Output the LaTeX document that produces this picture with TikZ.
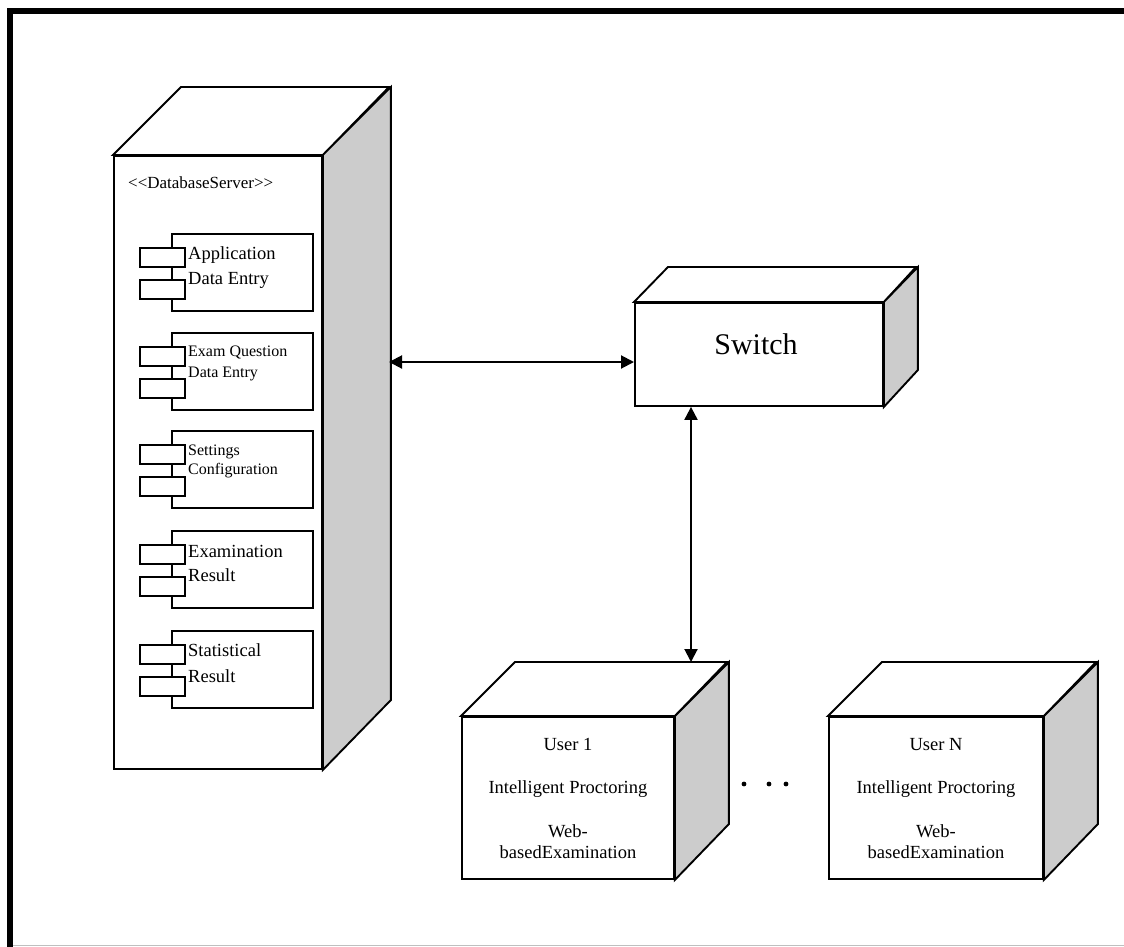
\documentclass[tikz,border=0pt]{standalone}
\usepackage{fontspec}
\setmainfont{Liberation Serif}
\usetikzlibrary{arrows.meta,calc}

\begin{document}
\begin{tikzpicture}[x=1pt,y=-1pt,
  front/.style={draw, line width=1.9pt, fill=white, inner sep=0pt, anchor=north west},
  sideface/.style={draw, line width=1.9pt, fill=black!20, line join=miter},
  topface/.style={draw, line width=1.9pt, fill=white, line join=miter},
  comp/.style={draw, line width=1.6pt, fill=white, inner sep=0pt, anchor=north west,
    minimum width=141pt, minimum height=77pt},
  port/.style={draw, line width=1.6pt, fill=white, inner sep=0pt, anchor=north west,
    minimum width=45pt, minimum height=19pt},
  lbl/.style={inner sep=0pt, anchor=base west},
  ulbl/.style={inner sep=0pt, anchor=base, font=\fontsize{18.5}{18.5}\selectfont},
  link/.style={line width=2pt, {Triangle[length=13pt,width=13pt]}-{Triangle[length=13pt,width=13pt]}},
]
\useasboundingbox (0,0) rectangle (1124,947);

% outer frame
\draw[line width=6pt, line join=miter] (10,947) -- (10,11.5) -- (1124,11.5);
\draw[black!25, line width=1pt] (13,945.5) -- (1124,945.5);

% database server node
\node[front, minimum width=208pt, minimum height=613pt] (db) at (113,155) {};
\draw[topface] (db.north west) -- ++(68,-68) -- ++(208,0) -- (db.north east) -- cycle;
\draw[sideface] (db.north east) -- ++(68,-68) -- ++(0,613) -- (db.south east) -- cycle;
\node[lbl, font=\fontsize{17}{17}\selectfont] (dbl) at (128,188)
  {<\kern0pt<DatabaseServer>\kern0pt>};

% components inside the server
\foreach \i/\t/\a/\b/\fs/\ya/\yb in {
  1/233/Application/Data Entry/18.5/26/51,
  2/332/Exam Question/Data Entry/16/24/45,
  3/430/Settings/Configuration/16/25/44,
  4/530/Examination/Result/18.5/27/51,
  5/630/Statistical/Result/18.5/26/52}{
  \node[comp] (c\i) at (171,\t) {};
  \node[port] (c\i p) at ($(c\i.north west)+(-32,14)$) {};
  \node[port] (c\i q) at ($(c\i.north west)+(-32,46)$) {};
  \node[lbl, font=\fontsize{\fs}{\fs}\selectfont] (c\i a) at ($(c\i.north west)+(17,\ya)$) {\a};
  \node[lbl, font=\fontsize{\fs}{\fs}\selectfont] (c\i b) at ($(c\i.north west)+(17,\yb)$) {\b};
}

% switch
\node[front, minimum width=248pt, minimum height=103pt] (sw) at (634,302) {};
\draw[topface] (sw.north west) -- ++(34,-35) -- ++(248,0) -- (sw.north east) -- cycle;
\draw[sideface] (sw.north east) -- ++(34,-35) -- ++(0,103) -- (sw.south east) -- cycle;
\node[inner sep=0pt, font=\fontsize{30}{30}\selectfont] (swt) at (756,344) {Switch};

% user machines
\node[front, minimum width=212pt, minimum height=162pt] (u1) at (461,716) {};
\draw[topface] (u1.north west) -- ++(54,-54) -- ++(212,0) -- (u1.north east) -- cycle;
\draw[sideface] (u1.north east) -- ++(54,-54) -- ++(0,162) -- (u1.south east) -- cycle;
\node[ulbl] (u1a) at ($(u1.north)+(0,34)$) {User 1};
\node[ulbl] (u1b) at ($(u1.north)+(0,77)$) {Intelligent Proctoring};
\node[ulbl] (u1c) at ($(u1.north)+(0,121)$) {Web-};
\node[ulbl] (u1d) at ($(u1.north)+(0,142)$) {basedExamination};

\node[front, minimum width=214pt, minimum height=162pt] (un) at (828,716) {};
\draw[topface] (un.north west) -- ++(54,-54) -- ++(214,0) -- (un.north east) -- cycle;
\draw[sideface] (un.north east) -- ++(54,-54) -- ++(0,162) -- (un.south east) -- cycle;
\node[ulbl] (una) at ($(un.north)+(0,34)$) {User N};
\node[ulbl] (unb) at ($(un.north)+(0,77)$) {Intelligent Proctoring};
\node[ulbl] (unc) at ($(un.north)+(0,121)$) {Web-};
\node[ulbl] (und) at ($(un.north)+(0,142)$) {basedExamination};

% ellipsis between the users
\fill (744,784) circle (2.4) (769,784) circle (2.4) (786,784) circle (2.4);

% connections
\coordinate (hl) at (389,362);
\draw[link] (hl) -- (hl -| sw.west);
\coordinate (vl) at (691,662);
\draw[link] (vl) -- (vl |- sw.south);
\end{tikzpicture}
\end{document}
